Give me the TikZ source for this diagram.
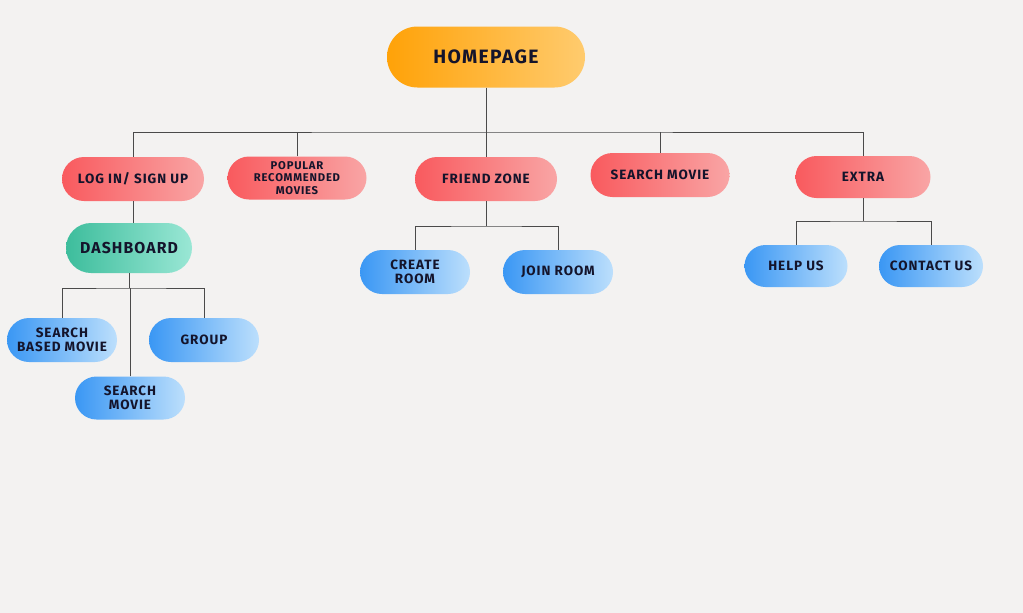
\documentclass[tikz,border=0pt]{standalone}
\usepackage{fontspec}
\setmainfont{Fira Sans}[LetterSpace=7]
\usetikzlibrary{shapes.misc}
\definecolor{pagebg}{HTML}{F3F2F1}
\definecolor{ink}{HTML}{14142B}
\definecolor{wire}{HTML}{4A4A4A}
\definecolor{orangeL}{HTML}{FFA208}
\definecolor{orangeR}{HTML}{FFCB6E}
\definecolor{redL}{HTML}{F95A5E}
\definecolor{redR}{HTML}{F9A5A5}
\definecolor{blueL}{HTML}{3A97F4}
\definecolor{blueR}{HTML}{BCDFFC}
\definecolor{greenL}{HTML}{3DBD9C}
\definecolor{greenR}{HTML}{9AE7D5}
\tikzset{
    pill/.style={rounded rectangle, draw=none, text=ink, align=center,
        font=\fontsize{11.5}{12}\selectfont\bfseries, inner sep=0pt},
    orangepill/.style={pill, left color=orangeL, right color=orangeR},
    redpill/.style={pill, left color=redL, right color=redR},
    bluepill/.style={pill, left color=blueL, right color=blueR},
    greenpill/.style={pill, left color=greenL, right color=greenR},
    tinytext/.style={font=\fontsize{9.6}{11}\selectfont\bfseries},
    wires/.style={draw=wire, line width=0.6pt},
}
\newcommand\Pill[6]{%
    \node[#1, minimum width=#4*0.03cm, minimum height=#5*0.03cm] (#2) at (#3) {#6};
}
\begin{document}
\begin{tikzpicture}[x=0.03cm,y=-0.03cm]
    \fill[pagebg] (0,0) rectangle (1023,613);
    \useasboundingbox (0,0) rectangle (1023,613);
    % top
    \Pill{orangepill,font=\fontsize{16.5}{17}\selectfont\bfseries}{home}{486,57}{198}{61}{HOMEPAGE}
    % first row
    \Pill{redpill}{login}{133,179}{142}{44}{LOG IN/ SIGN UP}
    \Pill{redpill,tinytext}{popular}{297,178}{139}{43}{POPULAR\\ RECOMMENDED\\ MOVIES}
    \Pill{redpill}{friend}{486,179}{142}{44}{FRIEND ZONE}
    \Pill{redpill}{search}{660,175}{139}{44}{SEARCH MOVIE}
    \Pill{redpill}{extra}{863,177}{135}{42}{EXTRA}
    % dashboard branch
    \Pill{greenpill,font=\fontsize{13.5}{14}\selectfont\bfseries}{dash}{129,248}{126}{50}{DASHBOARD}
    \Pill{bluepill}{based}{62,340}{110}{44}{SEARCH\\ BASED MOVIE}
    \Pill{bluepill}{group}{204,340}{110}{44}{GROUP}
    \Pill{bluepill}{dsearch}{130,398}{110}{43}{SEARCH\\ MOVIE}
    % friend zone branch
    \Pill{bluepill}{create}{415,272}{110}{44}{CREATE\\ ROOM}
    \Pill{bluepill}{join}{558,272}{110}{44}{JOIN ROOM}
    % extra branch
    \Pill{bluepill}{help}{796,266}{103}{42}{HELP US}
    \Pill{bluepill}{contact}{931,266}{104}{42}{CONTACT US}
    % wires
    \coordinate (bus) at (486,132);
    \coordinate (dbus) at (129,288);
    \coordinate (fbus) at (486,226);
    \coordinate (ebus) at (863,221);
    \draw[wires] (home.south) -- (friend.north);
    \draw[wires] (login.north) |- (bus) -| (extra.north);
    \draw[wires] (popular.north) -- (popular.north |- bus);
    \draw[wires] (search.north) -- (search.north |- bus);
    \draw[wires] (login.south) -- (login.south |- dash.north);
    \draw[wires] (dash.south) -- (dbus);
    \draw[wires] (based.north) |- (dbus) -| (group.north);
    \draw[wires] (dsearch.north) -- (dsearch.north |- dbus);
    \draw[wires] (friend.south) -- (fbus);
    \draw[wires] (create.north) |- (fbus) -| (join.north);
    \draw[wires] (extra.south) -- (ebus);
    \draw[wires] (help.north) |- (ebus) -| (contact.north);
\end{tikzpicture}
\end{document}
